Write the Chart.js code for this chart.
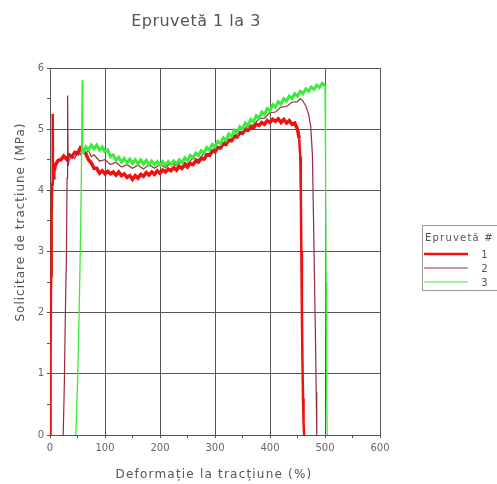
<!DOCTYPE html>
<html>
<head>
<meta charset="utf-8">
<script src="https://cdn.jsdelivr.net/npm/chart.js@4/dist/chart.umd.min.js"></script>
<style>
    html, body { margin: 0; padding: 0; background: #fff; }
    #wrap { width: 497px; height: 484px; }
</style>
</head>
<body>
<div id="wrap"><canvas id="grafico"></canvas></div>
<script>
// Epruveta 1 - deformatie (%) si solicitare (MPa)
var deformatie1 = [0, 1, 2, 3, 4, 5, 5.5, 7,
    10, 15, 20, 25, 30, 35, 40, 45, 50, 55, 60, 65, 70, 75, 80, 85, 90, 95,
    100, 105, 110, 115, 120, 125, 130, 135, 140, 145, 150, 155, 160, 165, 170, 175, 180, 185, 190, 195,
    200, 205, 210, 215, 220, 225, 230, 235, 240, 245, 250, 255, 260, 265, 270, 275, 280, 285, 290, 295,
    300, 305, 310, 315, 320, 325, 330, 335, 340, 345, 350, 355, 360, 365, 370, 375, 380, 385, 390, 395,
    400, 405, 410, 415, 420, 425, 430, 435, 440, 445, 450,
    453, 455, 456, 457, 458, 459, 460, 461, 462];
var solicitare1 = [0, 1.2, 2.6, 3.6, 4.1, 5.25, 4.2, 4.3,
    4.42, 4.49, 4.50, 4.56, 4.51, 4.58, 4.55, 4.62, 4.60, 4.69, 4.64, 4.60, 4.50, 4.45, 4.36, 4.36, 4.28, 4.32,
    4.27, 4.31, 4.27, 4.30, 4.25, 4.30, 4.24, 4.27, 4.21, 4.24, 4.18, 4.24, 4.20, 4.26, 4.23, 4.29, 4.25, 4.30, 4.26, 4.32,
    4.28, 4.33, 4.30, 4.35, 4.32, 4.37, 4.33, 4.39, 4.36, 4.42, 4.38, 4.44, 4.42, 4.48, 4.46, 4.52, 4.51, 4.58, 4.57, 4.64,
    4.63, 4.70, 4.69, 4.76, 4.75, 4.82, 4.81, 4.88, 4.87, 4.94, 4.93, 4.99, 4.98, 5.04, 5.02, 5.08, 5.06, 5.11, 5.08, 5.14,
    5.11, 5.16, 5.13, 5.17, 5.11, 5.16, 5.10, 5.14, 5.08, 5.10, 5.00,
    4.85, 4.55, 4.0, 3.0, 2.0, 1.2, 0.6, 0.2, 0];

// Epruveta 2
var deformatie2 = [24, 26, 28, 30, 31, 32, 33, 35, 40, 45, 50, 55, 60, 65, 70, 75, 80, 90,
    100, 110, 120, 130, 140, 150, 160, 170, 180, 190, 200, 210, 220, 230, 240, 250, 260, 270, 280, 290,
    300, 310, 320, 330, 340, 350, 360, 370, 380, 390, 400, 410, 420, 430, 440, 450, 455, 460, 465, 470,
    474, 477, 479, 481, 483, 484, 485];
var solicitare2 = [0, 0.8, 2.0, 3.0, 4.2, 5.55, 4.4, 4.5, 4.56, 4.52, 4.62, 4.58, 4.68, 4.6, 4.66, 4.55, 4.58, 4.48,
    4.5, 4.42, 4.46, 4.38, 4.42, 4.36, 4.41, 4.35, 4.42, 4.36, 4.43, 4.37, 4.45, 4.4, 4.48, 4.43, 4.53, 4.5, 4.6, 4.6,
    4.7, 4.72, 4.82, 4.84, 4.94, 4.96, 5.06, 5.07, 5.17, 5.18, 5.27, 5.28, 5.36, 5.37, 5.44, 5.45, 5.5, 5.46, 5.38, 5.25,
    5.05, 4.6, 3.6, 2.5, 1.4, 0.7, 0];

// Epruveta 3
var deformatie3 = [47, 50, 53, 55, 57, 58.5, 59.5,
    62, 65, 70, 75, 80, 85, 90, 95,
    100, 105, 110, 115, 120, 125, 130, 135, 140, 145, 150, 155, 160, 165, 170, 175, 180, 185, 190, 195,
    200, 205, 210, 215, 220, 225, 230, 235, 240, 245, 250, 255, 260, 265, 270, 275, 280, 285, 290, 295,
    300, 305, 310, 315, 320, 325, 330, 335, 340, 345, 350, 355, 360, 365, 370, 375, 380, 385, 390, 395,
    400, 405, 410, 415, 420, 425, 430, 435, 440, 445, 450, 455, 460, 465, 470, 475, 480, 485, 490, 495,
    500, 501, 502, 503, 504];
var solicitare3 = [0, 0.8, 2.0, 3.0, 4.2, 5.8, 4.6,
    4.64, 4.71, 4.66, 4.74, 4.68, 4.74, 4.66, 4.71,
    4.63, 4.66, 4.55, 4.58, 4.49, 4.54, 4.46, 4.52, 4.45, 4.51, 4.44, 4.50, 4.43, 4.50, 4.43, 4.49, 4.42, 4.48, 4.42, 4.47,
    4.41, 4.47, 4.41, 4.47, 4.42, 4.48, 4.43, 4.50, 4.45, 4.53, 4.49, 4.57, 4.53, 4.61, 4.57, 4.65, 4.61, 4.70, 4.66, 4.75,
    4.71, 4.80, 4.76, 4.86, 4.82, 4.92, 4.88, 4.98, 4.94, 5.04, 5.00, 5.10, 5.06, 5.16, 5.12, 5.22, 5.18, 5.28, 5.24, 5.34,
    5.30, 5.40, 5.36, 5.45, 5.41, 5.50, 5.46, 5.54, 5.50, 5.58, 5.54, 5.62, 5.58, 5.66, 5.62, 5.69, 5.65, 5.72, 5.68, 5.75,
    5.71, 4.5, 2.5, 0.8, 0];

var etichete = ['1', '2', '3'];
var culori = ['#f01010', '#9a2a3c', '#3bec3b'];
var grosimi = [3.5, 1.2, 3];
var grosimiVerticale = [2.5, 1.2, 1.3];
var grosimiLegenda = [2.5, 1, 1];

function puncte(xs, ys) {
    var arr = [];
    for (var i = 0; i < xs.length; i++) {
        arr.push({x: xs[i], y: ys[i]});
    }
    return arr;
}

var seturi = [puncte(deformatie1, solicitare1), puncte(deformatie2, solicitare2), puncte(deformatie3, solicitare3)];
var ordine = [2, 1, 0];

var datasets = [];
for (var i = 0; i < seturi.length; i++) {
    (function (k) {
        datasets.push({
            label: etichete[k],
            data: seturi[k],
            borderColor: culori[k],
            backgroundColor: culori[k],
            borderWidth: grosimi[k],
            pointRadius: 0,
            tension: 0,
            order: ordine[k],
            segment: {
                // portiunile abrupte (incarcare / rupere) sunt mai subtiri
                borderWidth: function (c) {
                    var dx = Math.abs(c.p1.parsed.x - c.p0.parsed.x) || 0.001;
                    var panta = Math.abs(c.p1.parsed.y - c.p0.parsed.y) / dx;
                    return panta > 0.1 ? grosimiVerticale[k] : grosimi[k];
                }
            }
        });
    })(i);
}

var fontText = 'DejaVu Sans, Verdana, sans-serif';

// titluri si legenda desenate direct pe canvas
var pluginTitluLegenda = {
    id: 'titluLegenda',
    afterDraw: function (chart) {
        var ctx = chart.ctx;
        ctx.save();
        ctx.fillStyle = '#555';
        ctx.textAlign = 'center';
        ctx.textBaseline = 'middle';

        ctx.letterSpacing = '0.5px';
        ctx.font = '16px ' + fontText;
        ctx.fillText('Epruvetă 1 la 3', 196, 22);

        ctx.letterSpacing = '1.2px';
        ctx.font = '12px ' + fontText;
        ctx.fillText('Deformație la tracțiune (%)', 214, 475);

        ctx.save();
        ctx.translate(21, 222);
        ctx.rotate(-Math.PI / 2);
        ctx.letterSpacing = '1px';
        ctx.fillText('Solicitare de tracțiune (MPa)', 0, 0);
        ctx.restore();

        ctx.strokeStyle = '#999';
        ctx.lineWidth = 1;
        ctx.strokeRect(422.5, 225.5, 90, 65);
        ctx.letterSpacing = '1.2px';
        ctx.font = '10px ' + fontText;
        ctx.textAlign = 'left';
        ctx.fillText('Epruvetă #', 425, 238);
        var ys = [254, 268, 282];
        for (var i = 0; i < etichete.length; i++) {
            ctx.strokeStyle = culori[i];
            ctx.lineWidth = grosimiLegenda[i];
            ctx.beginPath();
            ctx.moveTo(424, ys[i]);
            ctx.lineTo(468, ys[i]);
            ctx.stroke();
            ctx.textAlign = 'center';
            ctx.fillText(etichete[i], 485, ys[i] + 1);
        }
        ctx.restore();
    }
};

var ctx = document.getElementById('grafico');
var myChart = new Chart(ctx, {
    type: 'line',
    data: { datasets: datasets },
    options: {
        responsive: true,
        maintainAspectRatio: false,
        animation: false,
        layout: { padding: { top: 68, right: 117, bottom: 0, left: 0 } },
        plugins: {
            legend: { display: false },
            title: { display: false },
            tooltip: { enabled: false }
        },
        scales: {
            x: {
                type: 'linear',
                min: 0,
                max: 600,
                afterFit: function (s) { s.height = 49; },
                border: { color: '#555' },
                grid: {
                    color: function (c) { return c.tick && c.tick.value % 100 === 0 ? '#555' : 'rgba(0,0,0,0)'; },
                    tickColor: '#555',
                    tickLength: 3
                },
                ticks: {
                    stepSize: 50,
                    autoSkip: false,
                    maxRotation: 0,
                    padding: 4,
                    color: '#666',
                    font: { size: 10, family: fontText },
                    callback: function (v) { return v % 100 === 0 ? v : ''; }
                }
            },
            y: {
                min: 0,
                max: 6,
                afterFit: function (s) { s.width = 50; },
                border: { color: '#555' },
                grid: {
                    color: function (c) { return c.tick && c.tick.value % 1 === 0 ? '#555' : 'rgba(0,0,0,0)'; },
                    tickColor: '#555',
                    tickLength: 3
                },
                ticks: {
                    stepSize: 0.5,
                    autoSkip: false,
                    padding: 3,
                    color: '#666',
                    font: { size: 10, family: fontText },
                    callback: function (v) { return v % 1 === 0 ? v : ''; }
                }
            }
        }
    },
    plugins: [pluginTitluLegenda]
});
</script>
</body>
</html>
